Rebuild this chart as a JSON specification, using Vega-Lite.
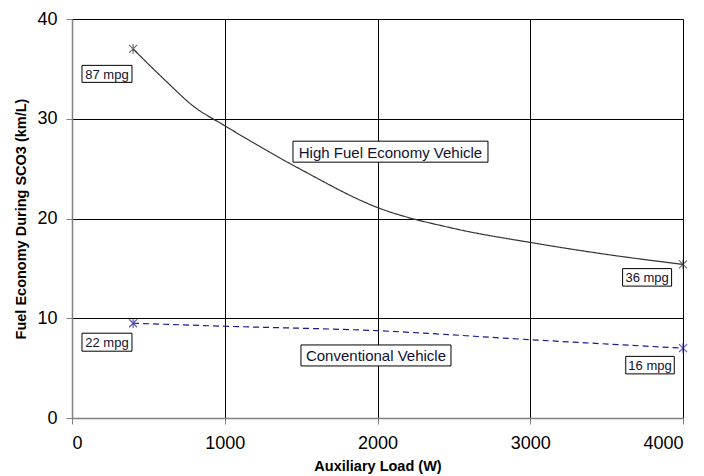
{
  "$schema": "https://vega.github.io/schema/vega-lite/v6.json",
  "width": 611,
  "height": 399,
  "autosize": "none",
  "padding": {"left": 72, "top": 19, "right": 21, "bottom": 58},
  "background": "white",
  "config": {
    "view": {"stroke": null},
    "font": "Liberation Sans",
    "axis": {
      "grid": true,
      "gridColor": "#000000",
      "gridOpacity": 1,
      "gridWidth": 1,
      "domainColor": "#808080",
      "domainWidth": 1.5,
      "tickColor": "#808080",
      "tickSize": 6,
      "labelFont": "Liberation Sans",
      "labelFontSize": 18,
      "labelColor": "#000000",
      "titleFont": "Liberation Sans",
      "titleFontSize": 14.5,
      "titleFontWeight": "bold",
      "titleColor": "#000000",
      "format": "d"
    }
  },
  "datasets": {
    "curves": [
      {"series": "High Fuel Economy Vehicle", "load": 400, "fe": 37.0},
      {"series": "High Fuel Economy Vehicle", "load": 600, "fe": 34.0},
      {"series": "High Fuel Economy Vehicle", "load": 800, "fe": 31.2},
      {"series": "High Fuel Economy Vehicle", "load": 1000, "fe": 29.3},
      {"series": "High Fuel Economy Vehicle", "load": 1500, "fe": 24.9},
      {"series": "High Fuel Economy Vehicle", "load": 2000, "fe": 21.1},
      {"series": "High Fuel Economy Vehicle", "load": 2500, "fe": 19.0},
      {"series": "High Fuel Economy Vehicle", "load": 3000, "fe": 17.6},
      {"series": "High Fuel Economy Vehicle", "load": 3500, "fe": 16.4},
      {"series": "High Fuel Economy Vehicle", "load": 4000, "fe": 15.4},
      {"series": "Conventional Vehicle", "load": 400, "fe": 9.5},
      {"series": "Conventional Vehicle", "load": 1000, "fe": 9.2},
      {"series": "Conventional Vehicle", "load": 2000, "fe": 8.75},
      {"series": "Conventional Vehicle", "load": 3000, "fe": 7.85},
      {"series": "Conventional Vehicle", "load": 4000, "fe": 7.0}
    ],
    "markers": [
      {"series": "High Fuel Economy Vehicle", "load": 400, "fe": 37.0},
      {"series": "High Fuel Economy Vehicle", "load": 4000, "fe": 15.4},
      {"series": "Conventional Vehicle", "load": 400, "fe": 9.5},
      {"series": "Conventional Vehicle", "load": 4000, "fe": 7.0}
    ],
    "labels": [
      {"label": "87 mpg", "kind": "mpg", "load": 229, "fe": 34.5},
      {"label": "36 mpg", "kind": "mpg", "load": 3765, "fe": 14.1},
      {"label": "22 mpg", "kind": "mpg", "load": 229, "fe": 7.6},
      {"label": "16 mpg", "kind": "mpg", "load": 3784, "fe": 5.3},
      {"label": "High Fuel Economy Vehicle", "kind": "series", "load": 2085, "fe": 26.7},
      {"label": "Conventional Vehicle", "kind": "series", "load": 1990, "fe": 6.27}
    ]
  },
  "encoding": {
    "x": {
      "field": "load", "type": "quantitative",
      "scale": {"domain": [0, 4000], "nice": false},
      "axis": {"values": [0, 1000, 2000, 3000, 4000], "title": "Auxiliary Load (W)", "labelPadding": 10, "titlePadding": 7}
    },
    "y": {
      "field": "fe", "type": "quantitative",
      "scale": {"domain": [0, 40], "nice": false},
      "axis": {"values": [0, 10, 20, 30, 40], "title": "Fuel Economy During SCO3 (km/L)", "labelPadding": 9, "titlePadding": 8}
    }
  },
  "layer": [
    {
      "data": {"name": "curves"},
      "mark": {"type": "line", "interpolate": "monotone", "strokeWidth": 1.2},
      "encoding": {
        "color": {
          "field": "series", "type": "nominal",
          "scale": {"domain": ["High Fuel Economy Vehicle", "Conventional Vehicle"], "range": ["#333333", "#1a1a99"]},
          "legend": null
        },
        "strokeDash": {
          "field": "series", "type": "nominal",
          "scale": {"domain": ["High Fuel Economy Vehicle", "Conventional Vehicle"], "range": [[1, 0], [6, 4]]},
          "legend": null
        }
      }
    },
    {
      "data": {"name": "markers"},
      "mark": {"type": "point", "shape": "M-1,-1L1,1M-1,1L1,-1M0,-1.2L0,1.2", "size": 64, "filled": false, "strokeWidth": 1.2},
      "encoding": {
        "color": {
          "field": "series", "type": "nominal",
          "scale": {"domain": ["High Fuel Economy Vehicle", "Conventional Vehicle"], "range": ["#333333", "#1a1a99"]},
          "legend": null
        }
      }
    },
    {
      "data": {"name": "labels"},
      "mark": {"type": "point", "size": 100, "filled": true, "fill": "white", "stroke": "#000000", "strokeWidth": 1, "opacity": 1},
      "encoding": {
        "shape": {
          "field": "label", "type": "nominal",
          "scale": {
            "domain": ["87 mpg", "36 mpg", "22 mpg", "16 mpg", "High Fuel Economy Vehicle", "Conventional Vehicle"],
            "range": [
              "M-5,-1.7H5V1.7H-5Z",
              "M-4.9,-1.75H4.9V1.75H-4.9Z",
              "M-5,-1.8H5V1.8H-5Z",
              "M-4.85,-1.75H4.85V1.75H-4.85Z",
              "M-19.5,-2.1H19.5V2.1H-19.5Z",
              "M-15,-2.1H15V2.1H-15Z"
            ]
          },
          "legend": null
        }
      }
    },
    {
      "data": {"name": "labels"},
      "mark": {"type": "text", "font": "Liberation Sans", "color": "#111133", "baseline": "middle", "align": "center", "dy": 1},
      "encoding": {
        "text": {"field": "label", "type": "nominal"},
        "size": {
          "field": "kind", "type": "nominal",
          "scale": {"domain": ["mpg", "series"], "range": [13, 15]},
          "legend": null
        }
      }
    }
  ]
}
